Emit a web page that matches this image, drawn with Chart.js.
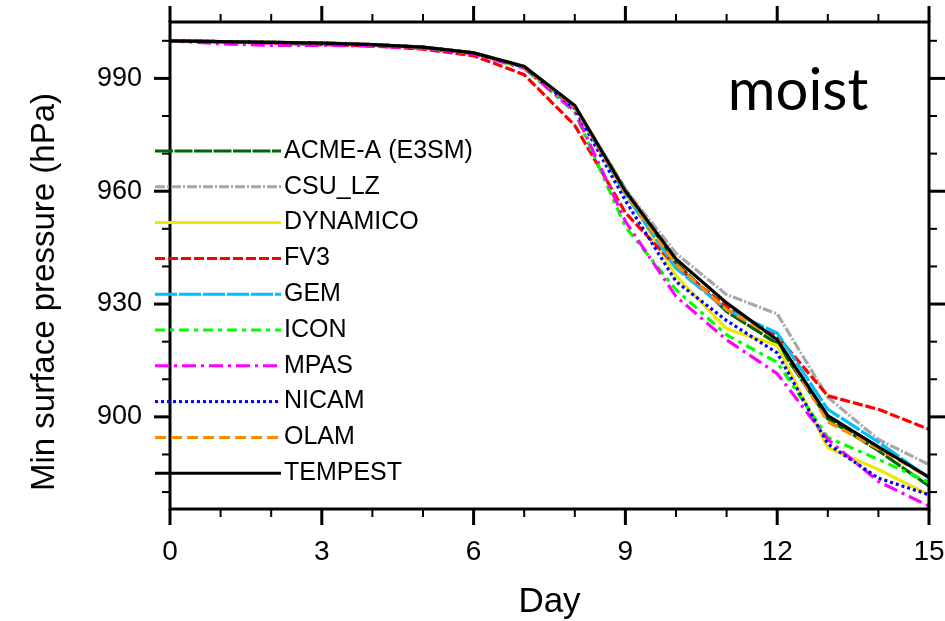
<!DOCTYPE html>
<html>
<head>
<meta charset="utf-8">
<script src="https://cdn.jsdelivr.net/npm/chart.js@4.4.1/dist/chart.umd.min.js"></script>
<style>
  html, body { margin: 0; padding: 0; background: #fff; }
</style>
</head>
<body>
<canvas id="chart" width="945" height="621"></canvas>
<script>
// days 0..15, min surface pressure (hPa) per model
const days = [0, 1, 2, 3, 4, 5, 6, 7, 8, 9, 10, 11, 12, 13, 14, 15];
const acme     = [1000, 999.8, 999.6, 999.4, 999.0, 998.3, 996.8, 993.2, 982.6, 960.5, 941.0, 928.0, 919.5, 899.5, 891.0, 881.6];
const csu      = [1000, 999.8, 999.6, 999.4, 999.0, 998.3, 996.8, 993.2, 982.8, 960.5, 943.5, 932.5, 927.4, 905.2, 894.0, 887.3];
const dynamico = [1000, 999.8, 999.6, 999.4, 999.0, 998.3, 996.8, 993.2, 982.6, 960.0, 937.5, 923.4, 919.0, 891.8, 886.0, 879.3];
const fv3      = [1000, 999.7, 999.4, 999.0, 998.6, 997.8, 996.0, 991.0, 977.5, 954.3, 940.0, 929.3, 921.5, 905.6, 902.0, 896.7];
const gem      = [1000, 999.8, 999.6, 999.4, 999.0, 998.3, 996.8, 993.0, 982.3, 959.2, 939.5, 928.5, 922.3, 902.0, 893.3, 883.7];
const icon     = [1000, 999.8, 999.6, 999.3, 998.9, 998.2, 996.6, 992.8, 981.0, 950.5, 933.8, 921.8, 914.5, 894.5, 888.7, 882.6];
const mpas     = [1000, 999.2, 998.8, 998.8, 998.6, 998.0, 996.5, 992.7, 981.3, 952.0, 932.0, 920.5, 911.5, 894.0, 882.8, 876.3];
const nicam    = [1000, 999.8, 999.6, 999.4, 999.0, 998.3, 996.8, 993.0, 982.0, 957.5, 936.0, 925.6, 917.0, 892.8, 883.7, 879.3];
const olam     = [1000, 999.8, 999.6, 999.4, 999.0, 998.3, 996.8, 993.0, 982.4, 959.5, 940.5, 928.5, 920.8, 898.7, 891.5, 883.9];
const tempest  = [1000, 999.8, 999.6, 999.4, 999.0, 998.3, 996.8, 993.2, 982.8, 960.0, 942.0, 930.3, 920.5, 900.3, 892.0, 884.0];

const models = ['ACME-A (E3SM)', 'CSU_LZ', 'DYNAMICO', 'FV3', 'GEM', 'ICON', 'MPAS', 'NICAM', 'OLAM', 'TEMPEST'];
const series = [acme, csu, dynamico, fv3, gem, icon, mpas, nicam, olam, tempest];
const xTicks = [0, 3, 6, 9, 12, 15];
const yTicks = [900, 930, 960, 990];

const colors = ['#006400', '#a8a8a8', '#f0e800', '#ff0000', '#00bfff', '#00ff00', '#ff00ff', '#0000ff', '#ff8c00', '#000000'];
const dashes = [[18, 1.5], [10, 2, 2, 2], [], [10, 3], [22, 2], [10, 5, 4, 5], [14, 5, 3, 5], [3, 3], [11, 5], []];

const FONT = 'Liberation Sans, Arial, Helvetica, sans-serif';

const frame = {
  id: 'frame',
  afterDraw(chart) {
    const { ctx, chartArea: a, scales: { x, y } } = chart;
    ctx.save();
    ctx.strokeStyle = '#000';
    const seg = (x1, y1, x2, y2) => { ctx.beginPath(); ctx.moveTo(x1, y1); ctx.lineTo(x2, y2); ctx.stroke(); };
    for (let d = 0; d <= 15; d++) {
      const px = x.getPixelForValue(d);
      const major = xTicks.includes(d);
      const len = major ? 16 : 8;
      ctx.lineWidth = major ? 3 : 2;
      seg(px, a.bottom, px, a.bottom + len);
      seg(px, a.top, px, a.top - len);
    }
    for (let v = 880; v <= 1000; v += 10) {
      const py = y.getPixelForValue(v);
      const major = yTicks.includes(v);
      const len = major ? 16 : 8;
      ctx.lineWidth = major ? 3 : 2;
      seg(a.left, py, a.left - len, py);
      seg(a.right, py, a.right + len, py);
    }
    ctx.lineWidth = 3;
    ctx.strokeRect(a.left, a.top, a.right - a.left, a.bottom - a.top);

    // legend
    ctx.font = '25px ' + FONT;
    ctx.textBaseline = 'middle';
    ctx.fillStyle = '#000';
    chart.data.datasets.forEach((ds, i) => {
      const ly = 151 + i * 35.8;
      ctx.strokeStyle = ds.borderColor;
      ctx.lineWidth = 3;
      ctx.setLineDash(ds.borderDash);
      seg(155, ly, 281, ly);
      ctx.setLineDash([]);
      ctx.fillText(ds.label, 284, ly);
    });

    // y-axis title
    ctx.save();
    ctx.translate(45, 292);
    ctx.rotate(-Math.PI / 2);
    ctx.textAlign = 'center';
    ctx.font = '33px ' + FONT;
    ctx.fillText('Min surface pressure (hPa)', 0, 0);
    ctx.restore();

    // panel label
    ctx.font = '58px Lato, "Open Sans", sans-serif';
    ctx.textAlign = 'center';
    ctx.textBaseline = 'alphabetic';
    ctx.fillText('moist', 798, 110);
    ctx.restore();
  }
};

new Chart(document.getElementById('chart'), {
  type: 'line',
  data: {
    labels: days,
    datasets: series.map((vals, i) => ({
      label: models[i],
      data: vals.map((v, k) => ({ x: days[k], y: v })),
      borderColor: colors[i],
      borderDash: dashes[i],
      borderWidth: 3.2,
      pointRadius: 0,
      tension: 0,
      fill: false,
      order: series.length - i
    }))
  },
  options: {
    responsive: false,
    animation: false,
    devicePixelRatio: 1,
    layout: { padding: { top: 22, right: 16, left: 0, bottom: 0 } },
    plugins: { legend: { display: false }, tooltip: { enabled: false } },
    scales: {
      x: {
        type: 'linear',
        min: 0,
        max: 15,
        afterFit: s => { s.height = 112; s.paddingLeft = 0; s.paddingRight = 0; },
        afterBuildTicks: s => { s.ticks = xTicks.map(v => ({ value: v })); },
        grid: { display: false },
        border: { display: false },
        ticks: { color: '#000', font: { family: FONT, size: 28 }, padding: 18, maxRotation: 0 },
        title: { display: true, text: 'Day', color: '#000', font: { family: FONT, size: 35 }, padding: { top: 0, bottom: -2 } }
      },
      y: {
        min: 875.5,
        max: 1005,
        afterFit: s => { s.width = 170; s.paddingTop = 0; s.paddingBottom = 0; },
        afterBuildTicks: s => { s.ticks = yTicks.map(v => ({ value: v })); },
        grid: { display: false },
        border: { display: false },
        ticks: { color: '#000', font: { family: FONT, size: 27 }, padding: 20 }
      }
    }
  },
  plugins: [frame]
});
</script>
</body>
</html>
